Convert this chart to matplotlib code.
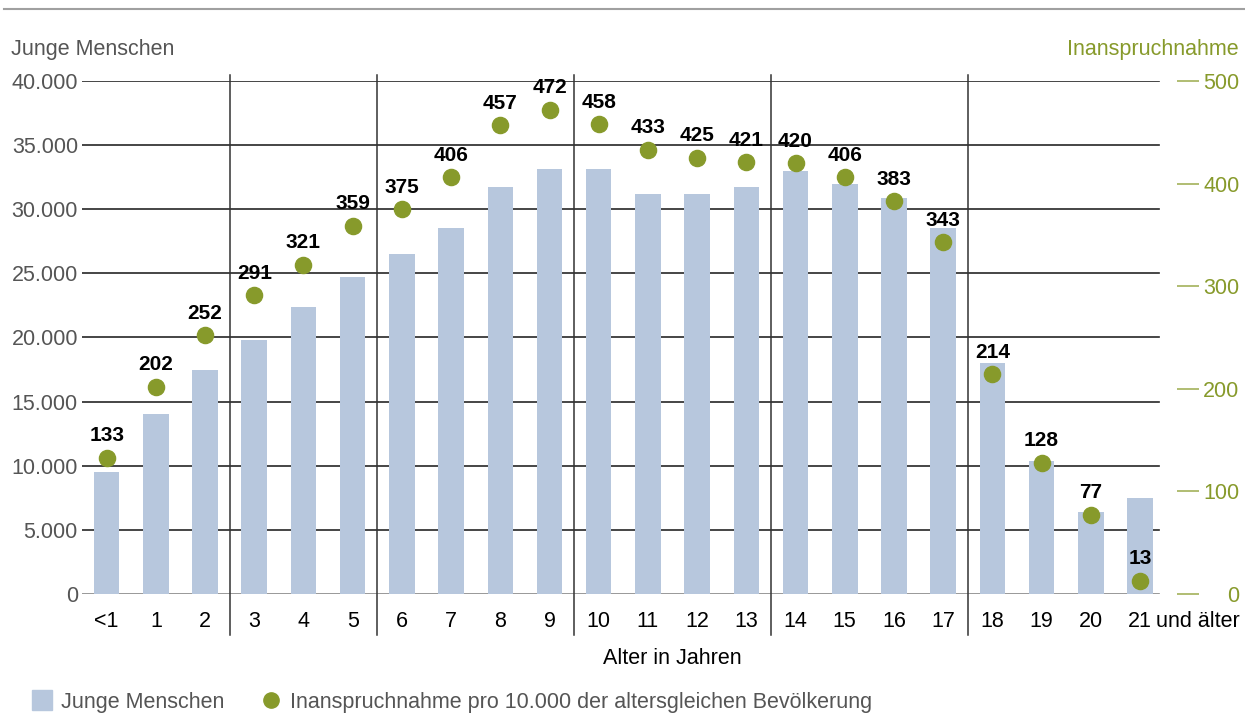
import matplotlib
matplotlib.use('Agg')
import matplotlib.pyplot as plt
from matplotlib.lines import Line2D
import numpy as np

plt.rcParams['font.family'] = ['Liberation Sans', 'DejaVu Sans']

# data
ages = ['<1', '1', '2', '3', '4', '5', '6', '7', '8', '9', '10',
        '11', '12', '13', '14', '15', '16', '17', '18', '19', '20', '21']
junge_menschen = [9500, 14000, 17500, 19800, 22400, 24700, 26500, 28500,
                  31700, 33100, 33100, 31200, 31200, 31700, 33000, 32000,
                  30900, 28500, 18000, 10400, 6400, 7500]
inanspruchnahme = [133, 202, 252, 291, 321, 359, 375, 406, 457, 472, 458,
                   433, 425, 421, 420, 406, 383, 343, 214, 128, 77, 13]
group_breaks = [2.5, 5.5, 9.5, 13.5, 17.5]

bar_col = '#b7c7dd'
green = '#879a2b'
green_light = '#a3b25a'
grey_txt = '#555555'
fs = 15.5

fig = plt.figure(figsize=(12.45, 7.22), dpi=100)
ax = fig.add_axes([0.0659, 0.1773, 0.8695, 0.7105])
x = np.arange(len(ages))

ax.bar(x, junge_menschen, width=0.52, color=bar_col, zorder=2)
ax.set_xlim(-0.5, len(ages) - 0.5)
ax.set_ylim(0, 40000)

yt = np.arange(0, 40001, 5000)
ax.set_yticks(yt)
ax.set_yticklabels(['{:,}'.format(v).replace(',', '.') for v in yt])
for v in yt:
    ax.axhline(v, xmax=0.995, color='#888888' if v == 0 else '#262626', lw=1.2, zorder=1)
ax.tick_params(axis='y', length=0, pad=3, labelsize=fs, labelcolor=grey_txt)
ax.set_xticks(x)
ax.set_xticklabels(ages)
ax.tick_params(axis='x', length=0, pad=12, labelsize=fs, labelcolor='black')
for s in ax.spines.values():
    s.set_visible(False)

for b in group_breaks:
    ax.plot([b, b], [-0.08, 1.012], color='#333333', lw=1.1,
            transform=ax.get_xaxis_transform(), clip_on=False, zorder=1)

ax.text(len(ages) - 1 + 0.33, -0.053, 'und älter', transform=ax.get_xaxis_transform(),
        ha='left', va='center', fontsize=fs, color='black')

ax2 = ax.twinx()
ax2.set_ylim(0, 500)
ax2.set_yticks(np.arange(0, 501, 100))
ax2.scatter(x, inanspruchnahme, s=135, color=green, zorder=3, clip_on=False)
for xi, v in zip(x, inanspruchnahme):
    ax2.annotate(str(v), (xi, v), xytext=(0, 9), textcoords='offset points',
                 ha='center', va='bottom', fontsize=15, fontweight='bold')
for s in ax2.spines.values():
    s.set_visible(False)
ax2.spines['right'].set_position(('outward', 9))
ax2.tick_params(axis='y', length=16, width=1.2, color=green_light, pad=29,
                labelsize=fs, labelcolor=green)
for lbl in ax2.get_yticklabels():
    lbl.set_ha('right')

fig.text(672 / 1245, 1 - 658 / 722, 'Alter in Jahren', ha='center', va='center',
         fontsize=fs, color='black')
fig.text(11 / 1245, 1 - 50 / 722, 'Junge Menschen', ha='left', va='center',
         fontsize=fs, color=grey_txt)
fig.text(1239 / 1245, 1 - 50 / 722, 'Inanspruchnahme', ha='right', va='center',
         fontsize=fs, color=green)

fig.add_artist(Line2D([0.003, 1.0], [1 - 9 / 722, 1 - 9 / 722], color='#a0a0a0', lw=1.5))

handles = [Line2D([], [], marker='s', ls='none', markersize=14.5, color=bar_col),
           Line2D([], [], marker='o', ls='none', markersize=11, color=green)]
fig.legend(handles, ['Junge Menschen',
                     'Inanspruchnahme pro 10.000 der altersgleichen Bevölkerung'],
           loc='lower left', bbox_to_anchor=(0.008, -0.014), ncol=2, frameon=False,
           fontsize=fs, labelcolor=grey_txt, handletextpad=0.25, columnspacing=1.6,
           handlelength=1.2)

fig.savefig('out.png', dpi=100)
